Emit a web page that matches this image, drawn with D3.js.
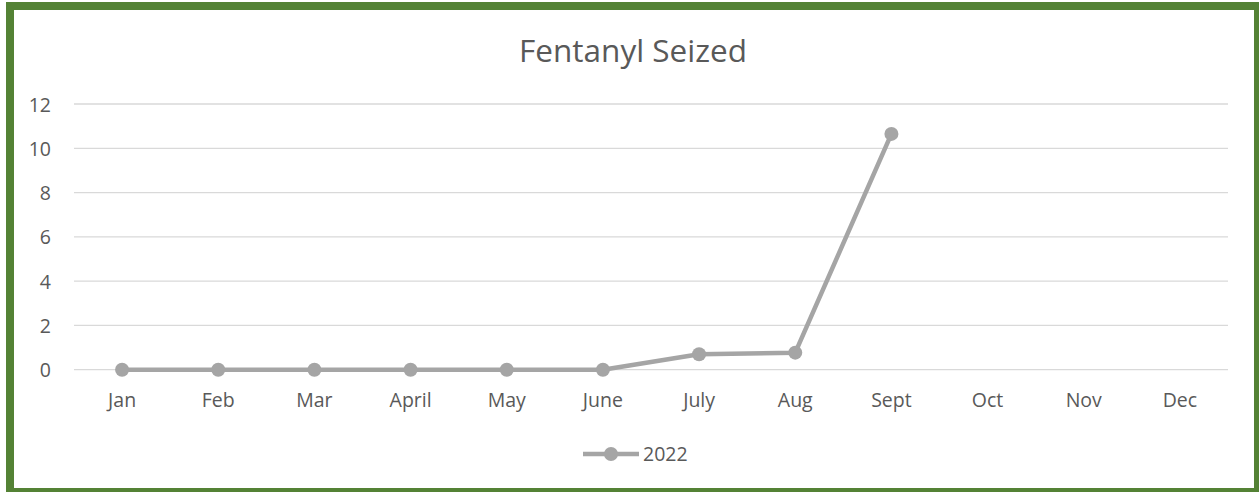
<!DOCTYPE html>
<html><head><meta charset="utf-8">
<script src="https://cdn.jsdelivr.net/npm/d3@7"></script>
<style>body{margin:0;background:#fff}svg{display:block}</style>
</head><body>
<script>
const categories = ["Jan","Feb","Mar","April","May","June","July","Aug","Sept","Oct","Nov","Dec"];
const values2022 = [0,0,0,0,0,0,0.7,0.77,10.65,null,null,null];
const yTicks = [0,2,4,6,8,10,12];
const seriesName = "2022";
const titleText = "Fentanyl Seized";

const W = 1259, H = 492;
const svg = d3.select("body").append("svg").attr("width", W).attr("height", H);
svg.append("rect").attr("x",0).attr("y",0).attr("width",W).attr("height",H).attr("fill","#fff");
svg.append("rect").attr("x",10).attr("y",6).attr("width",1248).attr("height",486)
  .attr("fill","none").attr("stroke","#548235").attr("stroke-width",8);

const font = "'Open Sans', 'Noto Sans', sans-serif";
const x = d3.scaleBand().domain(categories).range([74,1228]);
const y = d3.scaleLinear().domain([0,12]).range([369.7,104]);

svg.append("text").attr("x",633).attr("y",62).attr("text-anchor","middle")
  .attr("font-family",font).attr("font-size",31.5).attr("fill","#595959").text(titleText);

// gridlines
svg.append("g").selectAll("line").data(yTicks).join("line")
  .attr("x1",74).attr("x2",1228).attr("y1",d=>y(d)).attr("y2",d=>y(d))
  .attr("stroke","#d9d9d9").attr("stroke-width",1.3);

// y axis labels
const yAxis = d3.axisLeft(y).tickValues(yTicks).tickSize(0).tickPadding(0);
const gy = svg.append("g").attr("transform","translate(51,0)").call(yAxis);
gy.select(".domain").remove();
gy.selectAll("text").attr("font-family",font).attr("font-size",19.5).attr("fill","#595959")
  .attr("text-anchor","end").attr("dy","0.36em");

// x axis labels
const xAxis = d3.axisBottom(x).tickSize(0).tickPadding(0);
const gx = svg.append("g").attr("transform","translate(0,407)").call(xAxis);
gx.select(".domain").remove();
gx.selectAll("text").attr("font-family",font).attr("font-size",19.5).attr("fill","#595959").attr("dy",0);

const pts = categories.map((c,i)=>({c, v: values2022[i]})).filter(d=>d.v!==null);
const line = d3.line().x(d=>x(d.c)+x.bandwidth()/2).y(d=>y(d.v));
svg.append("path").datum(pts).attr("d",line).attr("fill","none")
  .attr("stroke","#a5a5a5").attr("stroke-width",4.5).attr("stroke-linejoin","round");
svg.append("g").selectAll("circle").data(pts).join("circle")
  .attr("cx",d=>x(d.c)+x.bandwidth()/2).attr("cy",d=>y(d.v)).attr("r",7).attr("fill","#a5a5a5");

// legend
const lg = svg.append("g");
lg.append("line").attr("x1",583).attr("x2",639).attr("y1",454).attr("y2",454)
  .attr("stroke","#a5a5a5").attr("stroke-width",4.5);
lg.append("circle").attr("cx",611).attr("cy",454).attr("r",7).attr("fill","#a5a5a5");
lg.append("text").attr("x",643).attr("y",461).attr("font-family",font).attr("font-size",19.5)
  .attr("fill","#595959").text(seriesName);
</script>
</body></html>
